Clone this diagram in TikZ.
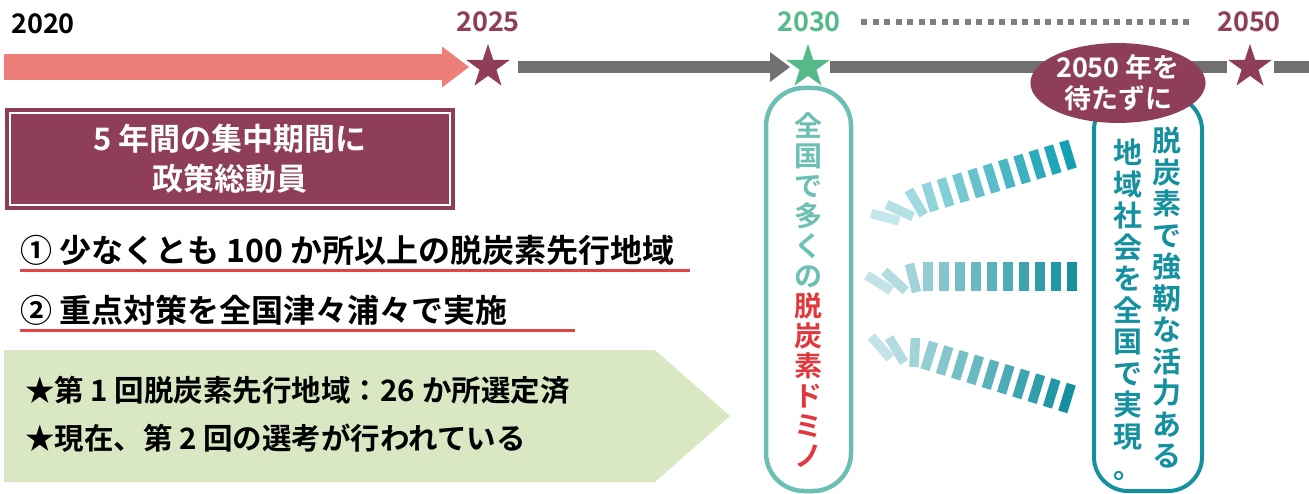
\documentclass[tikz,border=0pt]{standalone}
\usepackage{fontspec}
\setmainfont{Noto Sans CJK JP}[BoldFont={Noto Sans CJK JP Bold}]
\usepackage{tikz}
\usetikzlibrary{arrows.meta}
\usetikzlibrary{shapes.geometric}

\definecolor{maroon}{HTML}{8E3E58}
\definecolor{salmon}{HTML}{EE7E78}
\definecolor{tlgray}{HTML}{707070}
\definecolor{mint}{HTML}{55B98A}
\definecolor{lteal}{HTML}{6BBFB3}
\definecolor{dteal}{HTML}{14909F}
\definecolor{bteal}{HTML}{12A0B2}
\definecolor{domred}{HTML}{E0383C}
\definecolor{ulred}{HTML}{E04646}
\definecolor{paleg}{HTML}{D9E7C3}

\begin{document}
\begin{tikzpicture}[x=1pt,y=-1pt,
    yr/.style={font=\bfseries\fontsize{27}{27}\selectfont,inner sep=0pt},
    yrstar/.style={star,star points=5,star point ratio=2.6,minimum size=46pt,inner sep=0pt,fill=#1},
    bar/.style={draw=tlgray,line width=12pt},
    vtxt/.style={align=center,inner sep=0pt,font=\bfseries\fontsize{28}{30}\selectfont},
    item/.style={anchor=west,inner sep=0pt,font=\bfseries\fontsize{32}{32}\selectfont},
    note/.style={anchor=west,inner sep=0pt,font=\bfseries\fontsize{29.5}{29.5}\selectfont},
    domino/.style={fill=#1,minimum width=9.5pt,minimum height=29pt,inner sep=0pt,transform shape}]
  \useasboundingbox (0,0) rectangle (1309,494);

  % time line
  \node[yr] (y20) at (43,24) {2020};
  \node[yr,text=maroon] (y25) at (488,22) {2025};
  \node[yr,text=mint] (y30) at (809,22) {2030};
  \node[yr,text=maroon] (y50) at (1249,22) {2050};
  \coordinate (t0) at (4,67);
  \coordinate (c25) at (488,67);
  \coordinate (c30) at (808,67);
  \coordinate (c50) at (1250,67);
  \coordinate (t1) at (1309,67);
  \draw[salmon,line width=26pt,shorten >=19pt,-{Triangle[length=27pt,width=41pt,line width=0pt]}] (t0) -- (c25);
  \draw[bar,shorten <=30pt,shorten >=18pt,-{Triangle[length=20pt,width=30pt,line width=0pt]}] (c25) -- (c30);
  \draw[bar,shorten <=22pt,shorten >=23pt] (c30) -- (c50);
  \draw[bar,shorten <=24pt] (c50) -- (t1);
  \draw[tlgray!90,line width=6pt,dash pattern=on 6pt off 5.5pt,shorten <=20pt,shorten >=23pt] (y30.east) -- (y50.west);
  \node[yrstar=maroon] (s25) at (c25) {};
  \node[yrstar=mint] (s30) at (c30) {};
  \node[yrstar=maroon] (s50) at (c50) {};

  % left side
  \node[fill=maroon,draw=maroon,double=white,double distance=2pt,line width=4pt,
    minimum width=440pt,minimum height=92pt,text=white,align=center,
    font=\bfseries\fontsize{31}{40}\selectfont] (plan) at (230,159) {5 年間の集中期間に\\政策総動員};
  \node[item] (i1) at (20,250) {① 少なくとも 100 か所以上の脱炭素先行地域};
  \node[item] (i2) at (20,310) {② 重点対策を全国津々浦々で実施};
  \draw[ulred,line width=3pt] (i1.west) ++(0,21) -- ++(670,0);
  \draw[ulred,line width=3pt] (i2.west) ++(0,20) -- ++(555,0);
  \fill[paleg] (4,350) -- (655,350) -- (730,416) -- (655,482) -- (4,482) -- cycle;
  \node[note] (n1) at (25,390) {★第 1 回脱炭素先行地域：26 か所選定済};
  \node[note] (n2) at (25,438) {★現在、第 2 回の選考が行われている};

  % domino boxes
  \draw[lteal,line width=4.5pt,rounded corners=38pt] (766,88) rectangle (851,491);
  \node[vtxt,text=lteal] (dom) at (808,290) {全\\国\\で\\多\\く\\の\\\textcolor{domred}{脱}\\\textcolor{domred}{炭}\\\textcolor{domred}{素}\\\textcolor{domred}{ド}\\\textcolor{domred}{ミ}\\\textcolor{domred}{ノ}};
  \draw[dteal,line width=4pt,rounded corners=34pt] (1094,96) rectangle (1202,491);
  \node[vtxt,text=dteal,font=\bfseries\fontsize{29}{31.5}\selectfont] (goal1) at (1167,298) {脱\\炭\\素\\で\\強\\靭\\な\\活\\力\\あ\\る};
  \node[vtxt,text=dteal,font=\bfseries\fontsize{29}{31.5}\selectfont] (goal2) at (1128,310) {地\\域\\社\\会\\を\\全\\国\\で\\実\\現\\。};
  \node[ellipse,fill=maroon,minimum width=158pt,minimum height=77pt,inner sep=0pt,text=white,align=center,
    font=\bfseries\fontsize{27}{31}\selectfont] (e50) at (1118,83) {2050 年を\\待たずに};

  \foreach \rx/\ry/\ra/\rc [count=\r] in {1068/155/17/bteal, 1072/277/0/dteal, 1067/398/-17/dteal} {
    \begin{scope}[shift={(\rx,\ry)},rotate=\ra]
      \foreach \i in {0,...,9} {
        \pgfmathtruncatemacro\p{100-6*\i}
        \node[domino=\rc!\p!white] (d\r-\i) at (-16*\i,0) {};
      }
      \node[domino=\rc!40!white,rotate=14] (d\r-10) at (-159,1) {};
      \node[domino=\rc!32!white,rotate=48] (d\r-11) at (-177,4) {};
      \node[domino=\rc!25!white,rotate=58] (d\r-12) at (-193,6) {};
    \end{scope}
  }
\end{tikzpicture}
\end{document}
